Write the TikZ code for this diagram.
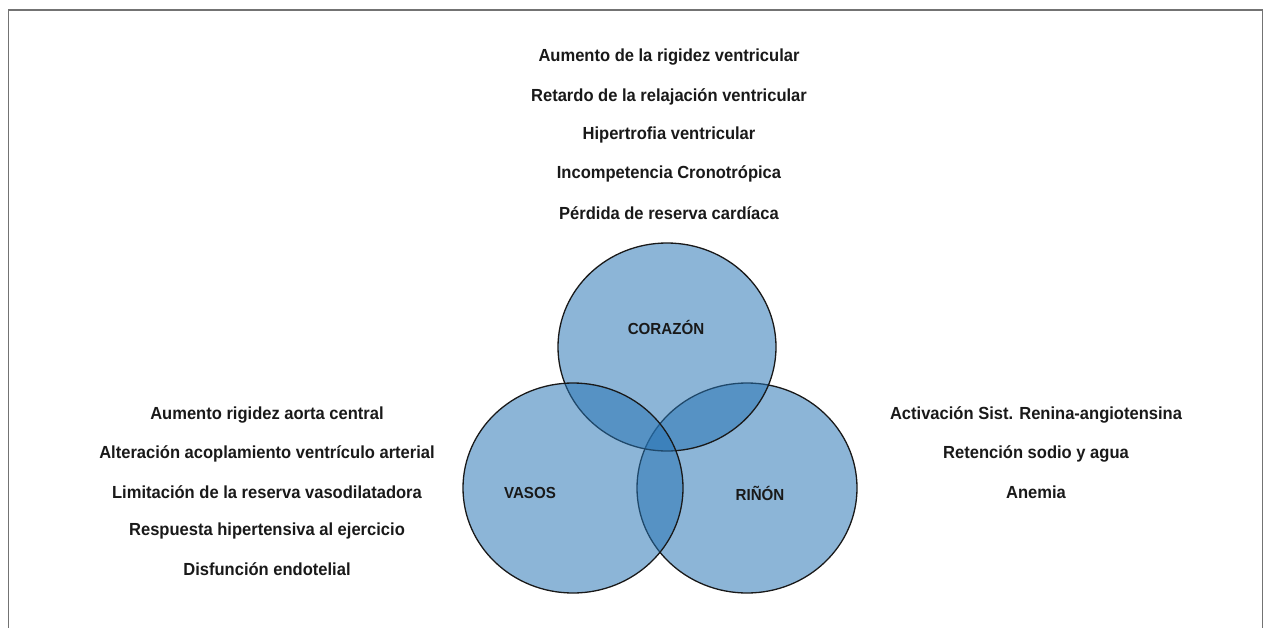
\documentclass[tikz,border=0pt]{standalone}
\usepackage{fontspec}
\setmainfont[FakeStretch=0.945]{Liberation Sans}
\begin{document}
\begin{tikzpicture}[x=1pt,y=-1pt,
  txt/.style={font=\fontsize{17.5}{19}\selectfont\bfseries, text=black!90, inner sep=0pt, anchor=center},
  lbl/.style={txt, font=\fontsize{16}{18}\selectfont\bfseries},
  venn/.style={draw=black!90, line width=1.3pt, fill=vennblue, fill opacity=0.53}]
\definecolor{vennblue}{RGB}{38,115,179}
\useasboundingbox (0,0) rectangle (1264,627);
% frame
\coordinate (f1) at (8.5,640);
\coordinate (f2) at (8.5,10);
\coordinate (f3) at (1262.5,10);
\coordinate (f4) at (1262.5,640);
\draw[gray!90!black, line width=1.5pt] (f1) -- (f2) -- (f3) -- (f4);
% circles
\path[venn] (747,488) ellipse [x radius=110, y radius=105];
\path[venn] (667,347) ellipse [x radius=109, y radius=104];
\path[venn] (573,488) ellipse [x radius=110, y radius=105];
\node[lbl] (lc) at (666,327) {CORAZÓN};
\node[lbl] (lv) at (530,493) {VASOS};
\node[lbl] (lr) at (760,493) {RIÑÓN};
% top
\node[txt] (t1) at (669,57) {Aumento de la rigidez ventricular};
\node[txt] (t2) at (669,97) {Retardo de la relajación ventricular};
\node[txt] (t3) at (669,135) {Hipertrofia ventricular};
\node[txt] (t4) at (669,174) {Incompetencia Cronotrópica};
\node[txt] (t5) at (669,213) {Pérdida de reserva cardíaca};
% left
\node[txt] (l1) at (267,415) {Aumento rigidez aorta central};
\node[txt] (l2) at (267,454) {Alteración acoplamiento ventrículo arterial};
\node[txt] (l3) at (267,492) {Limitación de la reserva vasodilatadora};
\node[txt] (l4) at (267,531) {Respuesta hipertensiva al ejercicio};
\node[txt] (l5) at (267,569) {Disfunción endotelial};
% right
\node[txt] (r1) at (1036,415) {Activación Sist. Renina-angiotensina};
\node[txt] (r2) at (1036,454) {Retención sodio y agua};
\node[txt] (r3) at (1036,492) {Anemia};
\end{tikzpicture}
\end{document}
